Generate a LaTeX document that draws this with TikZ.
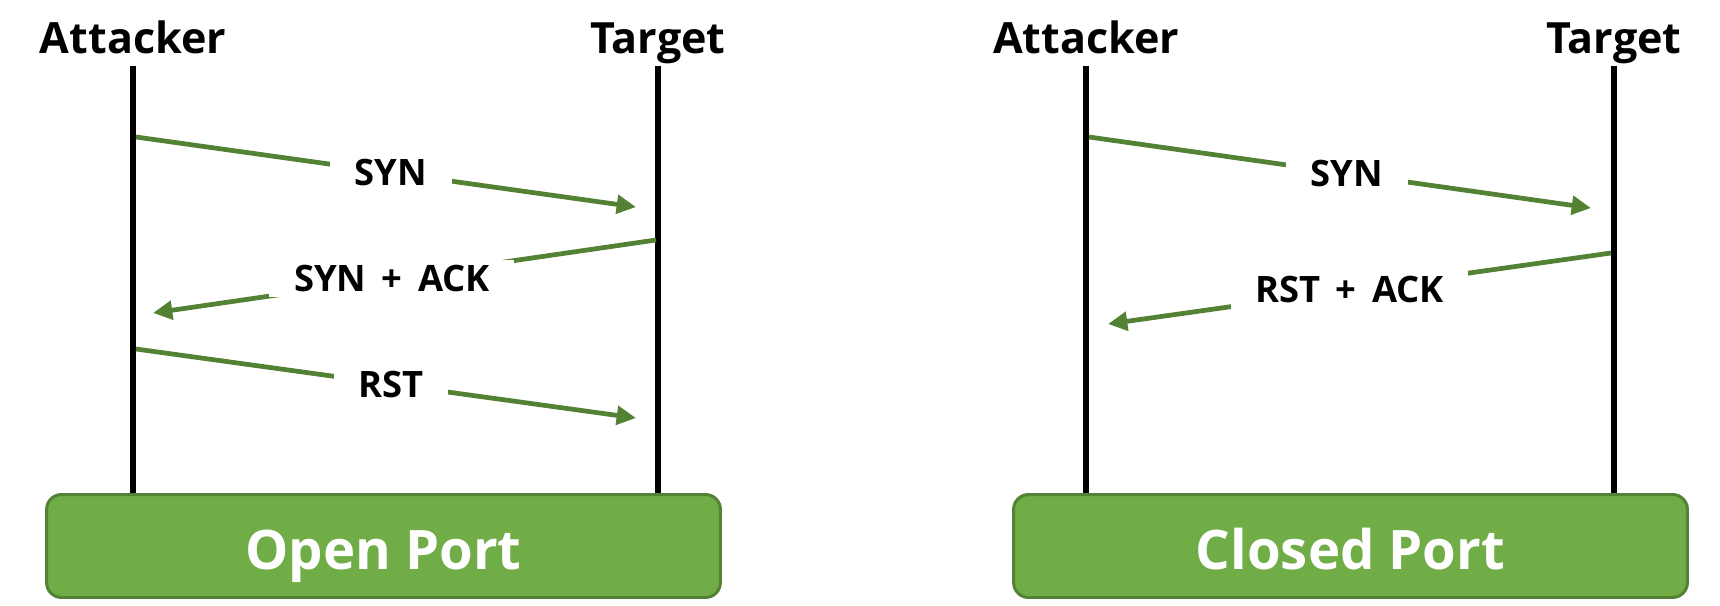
\documentclass[tikz,border=0pt]{standalone}
\usepackage{fontspec}
\setmainfont{Open Sans}
\usetikzlibrary{arrows.meta}
\usetikzlibrary{positioning}
\definecolor{port-fill}{HTML}{70AD47}
\definecolor{port-edge}{HTML}{548235}
\definecolor{msg-green}{HTML}{548235}

\begin{document}
\begin{tikzpicture}[
    x=0.02cm,
    y=-0.02cm,
    >=Triangle
  ]

  % Styles for the two handshake panels
  \tikzset{
    actor/.style={anchor=base, inner sep=0pt, font=\fontsize{24.5}{28}\selectfont\bfseries},
    life/.style={line width=3.5pt},
    msg/.style={-{Triangle[length=11pt,width=10.5pt]}, msg-green, line width=2.7pt},
    lbl/.style={fill=white, text=black, inner xsep=14pt, inner ysep=3pt, font=\fontsize{20.7}{24}\selectfont\bfseries},
    result/.style={draw=port-edge, line width=1.7pt, fill=port-fill, rounded corners=8.5pt, minimum width=13.48cm, minimum height=2.06cm, text height=27pt, text depth=0pt, text=white, font=\fontsize{31}{36}\selectfont\bfseries}
  }
  \useasboundingbox (0,0) rectangle (1720,605);

  % Headers
  \node (att1) [actor] at (133,53) {Attacker};
  \node (tgt1) [actor] at (658,53) {Target};
  \node (att2) [actor] at (1086,53) {Attacker};
  \node (tgt2) [actor] at (1614,53) {Target};

  % Result boxes
  \node (open)   [result] at (383.5,546) {Open Port};
  \node (closed) [result] at (1350.5,546) {Closed Port};

  % Lifelines
  \coordinate (att1-top) at (133,66);
  \coordinate (tgt1-top) at (658,66);
  \coordinate (att2-top) at (1086,66);
  \coordinate (tgt2-top) at (1614,66);
  \draw[life] (att1-top) -- (att1-top |- open.north);
  \draw[life] (tgt1-top) -- (tgt1-top |- open.north);
  \draw[life] (att2-top) -- (att2-top |- closed.north);
  \draw[life] (tgt2-top) -- (tgt2-top |- closed.north);

  % Open port: SYN, SYN+ACK, RST
  \coordinate (syn1-from) at (136,137);
  \coordinate (syn1-to)   at (636,207);
  \coordinate (sa-from)   at (656,240);
  \coordinate (sa-to)     at (153,313);
  \coordinate (rst-from)  at (136,349);
  \coordinate (rst-to)    at (636,418);
  \draw[msg] (syn1-from) -- node (syn1) [lbl, pos=0.51] {SYN} (syn1-to);
  \draw[msg] (sa-from) -- node (synack) [lbl, pos=0.525] {SYN \,+\, ACK} (sa-to);
  \draw[msg] (rst-from) -- node (rst) [lbl, pos=0.51] {RST} (rst-to);

  % Closed port: SYN, RST+ACK
  \coordinate (syn2-from) at (1089,137);
  \coordinate (syn2-to)   at (1591,208);
  \coordinate (ra-from)   at (1611,253);
  \coordinate (ra-to)     at (1108,324);
  \draw[msg] (syn2-from) -- node (syn2) [lbl, pos=0.514] {SYN} (syn2-to);
  \draw[msg] (ra-from) -- node (rstack) [lbl, pos=0.52] {RST \,+\, ACK} (ra-to);

\end{tikzpicture}
\end{document}
